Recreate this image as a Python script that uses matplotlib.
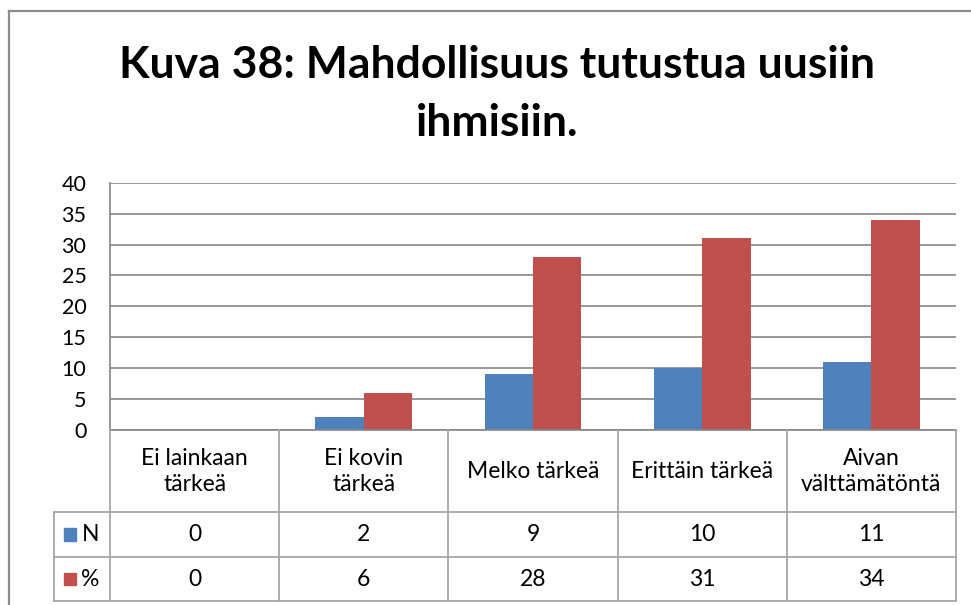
import matplotlib
matplotlib.use("Agg")
import matplotlib.pyplot as plt
from matplotlib.lines import Line2D
from matplotlib.patches import Rectangle

# --- data -------------------------------------------------------------
categories = ["Ei lainkaan\ntärkeä", "Ei kovin\ntärkeä", "Melko tärkeä",
              "Erittäin tärkeä", "Aivan\nvälttämätöntä"]
series_names = ["N", "%"]
n_values = [0, 2, 9, 10, 11]
pct_values = [0, 6, 28, 31, 34]
y_ticks = [0, 5, 10, 15, 20, 25, 30, 35, 40]
title = "Kuva 38: Mahdollisuus tutustua uusiin\nihmisiin."

# --- style ------------------------------------------------------------
W, H = 971, 605
FONT = "Lato"
BLUE = "#4F81BD"
RED = "#C0504D"
GRID = "#868686"
TABLE = "#A6A6A6"
BORDER = "#8C8C8C"
plt.rcParams["font.family"] = [FONT, "DejaVu Sans"]

fig = plt.figure(figsize=(W / 100, H / 100), dpi=100)


def px_box(x0, y0, x1, y1):
    """Convert a pixel box (top-left origin) to figure fractions."""
    return [x0 / W, 1 - y1 / H, (x1 - x0) / W, (y1 - y0) / H]


# outer chart frame (runs off the right and bottom edges)
fig.add_artist(Line2D([9 / W, 1.0], [1 - 11 / H, 1 - 11 / H],
                      transform=fig.transFigure, color=BORDER, lw=1.6))
fig.add_artist(Line2D([9 / W, 9 / W], [1 - 11 / H, 0.0],
                      transform=fig.transFigure, color=BORDER, lw=1.6))

# title
fig.text(497 / W, 1 - 45 / H, title, ha="center", va="top",
         fontsize=32, fontweight="bold", linespacing=1.55, color="black")

# --- bar plot area ----------------------------------------------------
PL, PR, PT, PB = 110, 956, 183, 429.5
ax = fig.add_axes(px_box(PL, PT, PR, PB))
x = list(range(len(categories)))
bw = 0.286
ax.bar([i - bw / 2 for i in x], n_values, width=bw, color=BLUE,
       edgecolor="none", zorder=3)
ax.bar([i + bw / 2 for i in x], pct_values, width=bw, color=RED,
       edgecolor="none", zorder=3)
ax.set_xlim(-0.5, len(categories) - 0.5)
ax.set_ylim(0, 40)
ax.set_yticks(y_ticks)
ax.set_yticklabels([str(t) for t in y_ticks])
ax.set_xticks([])
ax.yaxis.grid(True, color=GRID, lw=1.2, zorder=0)
for s in ["top", "right", "bottom"]:
    ax.spines[s].set_visible(False)
ax.spines["left"].set_color(GRID)
ax.spines["left"].set_linewidth(1.2)
ax.tick_params(axis="y", length=0, pad=17, labelsize=15.5, labelcolor="black")
ax.set_facecolor("none")

# --- data table below the plot ----------------------------------------
TB = 601
tab = fig.add_axes(px_box(PL, PB, PR, TB))
tab.set_xlim(-0.5, len(categories) - 0.5)
tab.set_ylim(TB - PB, 0)
tab.axis("off")
col_px = (PR - PL) / len(categories)
leg_left = -0.5 - (PL - 54) / col_px
row_hdr = 512 - PB
row_n = 557 - PB
row_end = TB - PB

kw = dict(color=TABLE, lw=1.3, clip_on=False)
tab.plot([-0.5, len(categories) - 0.5], [0, 0], color=GRID, lw=1.2,
         clip_on=False)
for i in range(len(categories) + 1):
    tab.plot([i - 0.5, i - 0.5], [0, row_end], **kw)
tab.plot([leg_left, leg_left], [row_hdr, row_end], **kw)
for yy in (row_hdr, row_n, row_end):
    tab.plot([leg_left, len(categories) - 0.5], [yy, yy], **kw)

fs = 16.5
for i, cat in enumerate(categories):
    tab.text(i, row_hdr / 2 + 1, cat, ha="center", va="center",
             fontsize=fs, linespacing=1.3, clip_on=False)
    tab.text(i, (row_hdr + row_n) / 2, str(n_values[i]), ha="center",
             va="center", fontsize=fs, clip_on=False)
    tab.text(i, (row_n + row_end) / 2, str(pct_values[i]), ha="center",
             va="center", fontsize=fs, clip_on=False)

# legend keys inside the table
sq = 12.5 / col_px
for (y0, y1), name, col in zip([(row_hdr, row_n), (row_n, row_end)],
                               series_names, [BLUE, RED]):
    yc = (y0 + y1) / 2
    kx = leg_left + 10 / col_px
    tab.add_patch(Rectangle((kx, yc - 6.3), sq, 12.5, color=col,
                            clip_on=False))
    tab.text(kx + sq + 5 / col_px, yc, name, ha="left", va="center",
             fontsize=fs, clip_on=False)

fig.savefig("out.png", dpi=100)
